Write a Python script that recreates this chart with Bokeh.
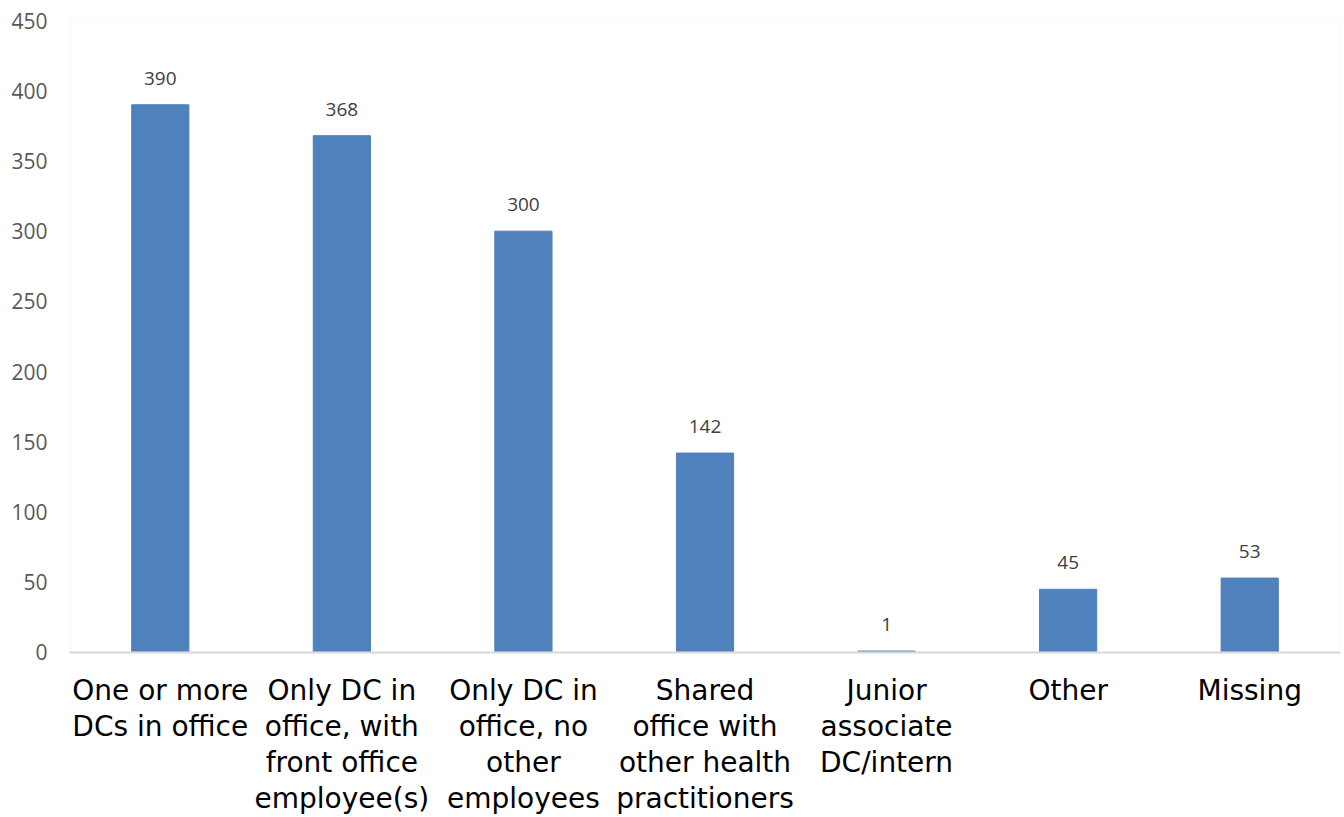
from bokeh.plotting import figure
from bokeh.models import FactorRange, Range1d, ColumnDataSource, FixedTicker, Span, BoxAnnotation
from bokeh.embed import file_html
from bokeh.resources import INLINE
from bokeh.core.properties import value

categories = ["One or more\nDCs in office",
              "Only DC in\noffice, with\nfront office\nemployee(s)",
              "Only DC in\noffice, no\nother\nemployees",
              "Shared\noffice with\nother health\npractitioners",
              "Junior\nassociate\nDC/intern",
              "Other",
              "Missing"]
counts = [390, 368, 300, 142, 1, 45, 53]
y_ticks = [0, 50, 100, 150, 200, 250, 300, 350, 400, 450]

src = ColumnDataSource(dict(cat=categories, val=counts, lab=[str(v) for v in counts],
                            zero=[0] * len(counts)))

p = figure(x_range=FactorRange(*categories, range_padding=0), y_range=Range1d(-117.5, 450),
           frame_width=1271, frame_height=797,
           min_border_left=69, min_border_right=4, min_border_top=20, min_border_bottom=0,
           output_backend="svg", toolbar_location=None)
p.vbar(x="cat", top="val", width=0.315, source=src, color="#4F81BD")
p.text(x="cat", y="val", text="lab", source=src, text_align="center", text_baseline="bottom",
       y_offset=-20, text_font=value("Open Sans"), text_font_size="19px", text_color="#404040")
p.text(x="cat", y="zero", text="cat", source=src, text_align="center", text_baseline="top",
       y_offset=22, text_font=value("DejaVu Sans"), text_font_size="28px", text_color="#000000",
       text_line_height=1.09)

p.add_layout(BoxAnnotation(bottom=0, top=450, left=0, right=7, fill_alpha=0,
                           line_color="#d6e0ee", line_width=2))
p.add_layout(Span(location=0, dimension="width", line_color="#d9d9d9", line_width=2))

p.xgrid.visible = False
p.ygrid.visible = False
p.outline_line_color = None
p.xaxis.visible = False

p.yaxis.ticker = FixedTicker(ticks=y_ticks)
p.yaxis.axis_line_color = None
p.yaxis.major_tick_line_color = None
p.yaxis.minor_tick_line_color = None
p.yaxis.major_label_text_font = "Open Sans"
p.yaxis.major_label_text_font_size = "21px"
p.yaxis.major_label_text_color = "#595959"
p.yaxis.major_label_standoff = 16

open("out.html", "w").write(file_html(p, INLINE))
